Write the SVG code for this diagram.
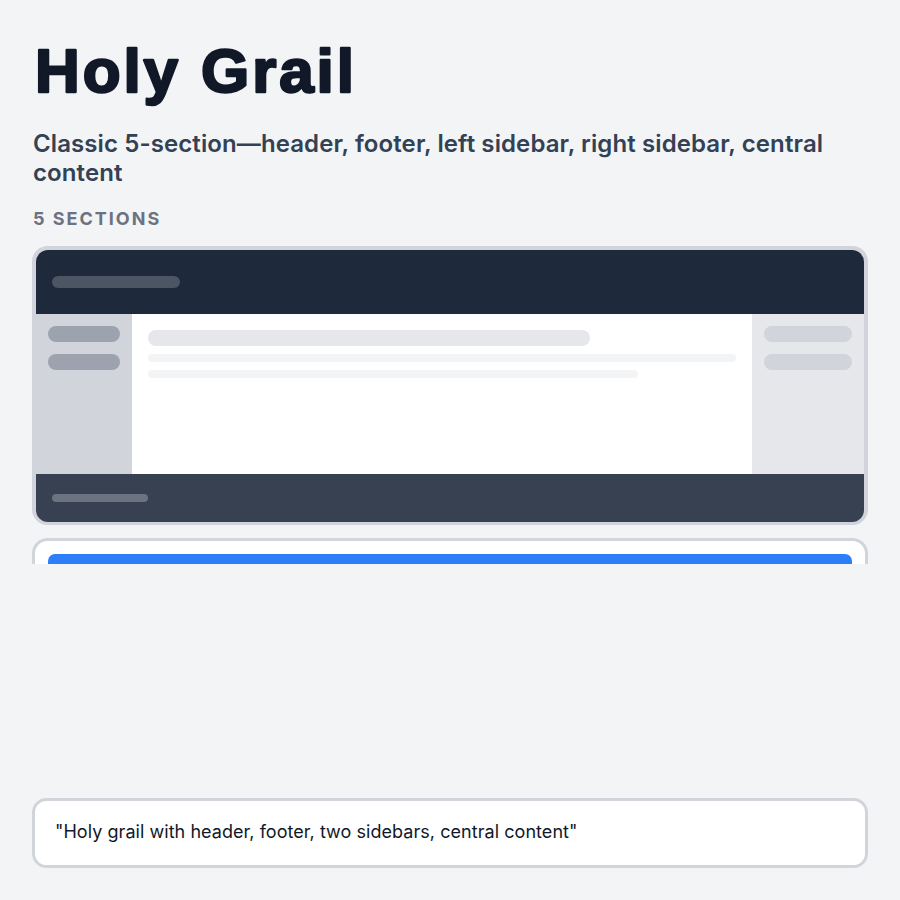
<svg xmlns="http://www.w3.org/2000/svg" width="900" height="900" viewBox="0 0 900 900">
<style>
.title{font-family:"Liberation Sans",Arial,sans-serif;font-weight:700;font-size:62px;fill:#111827;stroke:#111827;stroke-width:2.4px;stroke-linejoin:round;letter-spacing:2.9px}
.sub{font-family:Inter,"Noto Sans",sans-serif;font-weight:600;font-size:24px;fill:#334155;letter-spacing:0.1px}
.cap{font-family:Inter,"Noto Sans",sans-serif;font-weight:700;font-size:18px;fill:#6b7280;letter-spacing:2px}
.quote{font-family:Inter,"Noto Sans",sans-serif;font-weight:400;font-size:18px;fill:#111827;letter-spacing:0.05px}
.card{fill:#ffffff;stroke:#d1d5db;stroke-width:3}
</style>
<defs>
<clipPath id="inner"><rect x="36" y="250" width="828" height="272" rx="12"/></clipPath>
<clipPath id="peek"><rect x="0" y="530" width="900" height="34"/></clipPath>
</defs>
<rect width="900" height="900" fill="#f3f4f6"/>
<text class="title" x="35" y="92">Holy Grail</text>
<text class="sub" x="33" y="152">Classic 5-section—header, footer, left sidebar, right sidebar, central</text>
<text class="sub" x="33" y="181">content</text>
<text class="cap" x="33" y="225">5 SECTIONS</text>

<g id="layout-preview">
<rect x="33.5" y="247.5" width="833" height="276" rx="14" fill="#d1d5db" stroke="#d1d5db" stroke-width="3"/>
<g clip-path="url(#inner)">
<g id="header">
<rect x="36" y="250" width="828" height="64" fill="#1e293b"/>
<rect x="52" y="276" width="128" height="12" rx="6" fill="#4b5563"/>
</g>
<g id="left-sidebar">
<rect x="32" y="314" width="100" height="160" fill="#d1d5db"/>
<rect x="48" y="326" width="72" height="16" rx="8" fill="#9ca3af"/>
<rect x="48" y="354" width="72" height="16" rx="8" fill="#9ca3af"/>
</g>
<g id="content">
<rect x="132" y="314" width="620" height="160" fill="#ffffff"/>
<rect x="148" y="330" width="442" height="16" rx="8" fill="#e5e7eb"/>
<rect x="148" y="354" width="588" height="8" rx="4" fill="#f3f4f6"/>
<rect x="148" y="370" width="490" height="8" rx="4" fill="#f3f4f6"/>
</g>
<g id="right-sidebar">
<rect x="752" y="314" width="112" height="160" fill="#e5e7eb"/>
<rect x="764" y="326" width="88" height="16" rx="8" fill="#d1d5db"/>
<rect x="764" y="354" width="88" height="16" rx="8" fill="#d1d5db"/>
</g>
<g id="footer">
<rect x="36" y="474" width="828" height="48" fill="#374151"/>
<rect x="52" y="494" width="96" height="8" rx="4" fill="#6b7280"/>
</g>
</g>
</g>

<g id="second-card" clip-path="url(#peek)">
<rect class="card" x="33.5" y="539.5" width="833" height="80" rx="14"/>
<rect x="48" y="554" width="804" height="30" rx="7" fill="#2d7ff9"/>
</g>

<g id="prompt">
<rect class="card" x="33.5" y="799.5" width="833" height="67" rx="13"/>
<text class="quote" x="55" y="838">"Holy grail with header, footer, two sidebars, central content"</text>
</g>
</svg>
